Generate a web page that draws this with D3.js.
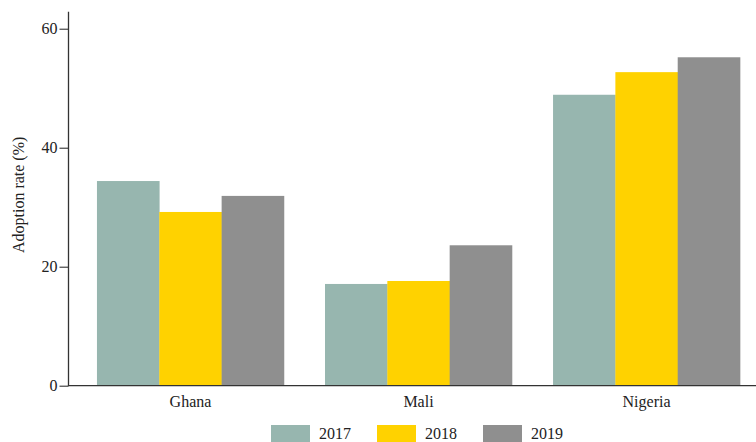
<!DOCTYPE html>
<html>
<head>
<meta charset="utf-8">
<script src="https://cdn.jsdelivr.net/npm/d3@7"></script>
<style>
  html, body { margin: 0; padding: 0; background: #fff; }
</style>
</head>
<body>
<svg id="chart" width="756" height="442"></svg>
<script>
// Adoption rate by country and year
const countries = ["Ghana", "Mali", "Nigeria"];
const years = ["2017", "2018", "2019"];
const rate2017 = [34.4, 17.1, 48.9];
const rate2018 = [29.2, 17.6, 52.7];
const rate2019 = [31.9, 23.6, 55.2];
const yTicks = [0, 20, 40, 60];
const yLabel = "Adoption rate (%)";

const seriesByYear = { "2017": rate2017, "2018": rate2018, "2019": rate2019 };
const colors = { "2017": "#97b6af", "2018": "#ffd200", "2019": "#8f8f8f" };
const serif = "'Liberation Serif', 'Times New Roman', Times, 'DejaVu Serif', 'Noto Serif', serif";

const svg = d3.select("#chart");
const axisX = 68.5, zeroY = 385.7, topY = 11.7;

const x0 = d3.scaleBand().domain(countries).range([81, 756])
  .paddingInner(0.18).paddingOuter(0.07);
const x1 = d3.scaleBand().domain(years).range([0, x0.bandwidth()]).padding(0);
const y = d3.scaleLinear().domain([0, 62.86]).range([zeroY, topY]);

// bars
const groups = svg.append("g").selectAll("g")
  .data(countries).join("g")
  .attr("transform", d => `translate(${x0(d)},0)`);
groups.selectAll("rect")
  .data((c, i) => years.map(yr => ({ yr, v: seriesByYear[yr][i] })))
  .join("rect")
  .attr("x", d => x1(d.yr))
  .attr("width", x1.bandwidth() + 0.3)
  .attr("y", d => y(d.v))
  .attr("height", d => zeroY - y(d.v))
  .attr("fill", d => colors[d.yr]);

// y axis
const yAxis = svg.append("g")
  .attr("transform", `translate(${axisX},0)`)
  .call(d3.axisLeft(y).tickValues(yTicks).tickSize(9).tickPadding(2).tickSizeOuter(0));
yAxis.select(".domain").remove();
yAxis.attr("font-family", serif);
yAxis.append("line").attr("x1", 0).attr("x2", 0).attr("y1", topY).attr("y2", zeroY)
  .attr("stroke", "#333").attr("stroke-width", 1.3);
yAxis.selectAll(".tick line").attr("stroke", "#333").attr("stroke-width", 1.1);
yAxis.selectAll(".tick text").attr("fill", "#222").attr("font-size", 16)
  .attr("font-family", serif);

// x axis
const xAxis = svg.append("g")
  .attr("transform", `translate(0,${zeroY})`)
  .call(d3.axisBottom(x0).tickSize(0).tickPadding(10));
xAxis.select(".domain").remove();
xAxis.attr("font-family", serif);
xAxis.append("line").attr("x1", axisX - 0.6).attr("x2", 756).attr("y1", 0).attr("y2", 0)
  .attr("stroke", "#333").attr("stroke-width", 1.3);
xAxis.selectAll(".tick text").attr("fill", "#222").attr("font-size", 16)
  .attr("font-family", serif);

// y label
svg.append("text")
  .attr("transform", `translate(24,${zeroY / 2 + 2}) rotate(-90)`)
  .attr("text-anchor", "middle")
  .attr("fill", "#222")
  .attr("font-family", serif)
  .attr("font-size", 16)
  .text(yLabel);

// legend
const legend = svg.append("g").attr("transform", "translate(271,425)");
const item = legend.selectAll("g").data(years).join("g")
  .attr("transform", (d, i) => `translate(${i * 106},0)`);
item.append("rect").attr("width", 39).attr("height", 17).attr("fill", d => colors[d]);
item.append("text").attr("x", 48).attr("y", 13.5)
  .attr("fill", "#222").attr("font-family", serif).attr("font-size", 16).text(d => d);
</script>
</body>
</html>
